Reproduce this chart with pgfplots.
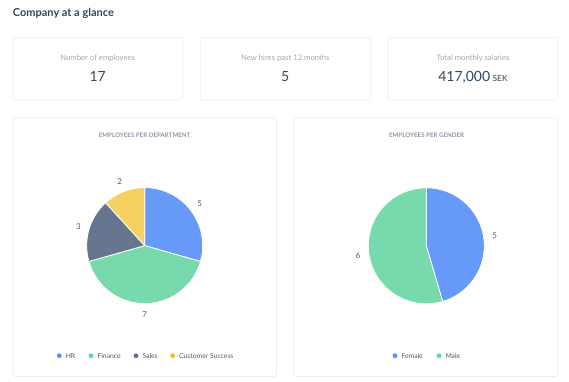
\documentclass[border=0pt]{standalone}
\usepackage{pgfplots}
\pgfplotsset{compat=1.18}
\usepackage{pgfplotstable}
\usepackage{fontspec}
\setmainfont{Lato}
\usetikzlibrary{calc}

\definecolor{titlec}{HTML}{33475B}
\definecolor{subc}{HTML}{A0A5AD}
\definecolor{cardc}{HTML}{E9ECF0}
\definecolor{charttitle}{HTML}{8C96A3}
\definecolor{labelc}{HTML}{595959}
\definecolor{sHR}{HTML}{6699F8}
\definecolor{sFin}{HTML}{78D9AC}
\definecolor{sSales}{HTML}{66768F}
\definecolor{sCS}{HTML}{F5D162}
\definecolor{dHR}{HTML}{5B8FF9}
\definecolor{dFin}{HTML}{5AD8A6}
\definecolor{dSales}{HTML}{5D7092}
\definecolor{dCS}{HTML}{F6BD16}

\pgfplotstableread{
value col
5 sHR
7 sFin
3 sSales
2 sCS
}\deptdata

\pgfplotstableread{
value col
5 sHR
6 sFin
}\genderdata

% draws a pie from a table (value, col), centre in axis units, radius in pt
\newcommand{\drawpie}[4]{%
  \pgfplotstablegetrowsof{#1}%
  \pgfmathtruncatemacro{\pienrows}{\pgfplotsretval-1}%
  \gdef\pietotal{0}%
  \foreach \i in {0,...,\pienrows}{%
    \pgfplotstablegetelem{\i}{value}\of{#1}%
    \pgfmathsetmacro{\tmpt}{\pietotal+\pgfplotsretval}%
    \xdef\pietotal{\tmpt}}%
  \gdef\piestart{90}%
  \foreach \i in {0,...,\pienrows}{%
    \pgfplotstablegetelem{\i}{value}\of{#1}\edef\pv{\pgfplotsretval}%
    \pgfplotstablegetelem{\i}{col}\of{#1}\edef\pc{\pgfplotsretval}%
    \pgfmathsetmacro{\pieend}{\piestart-360*\pv/\pietotal}%
    \pgfmathsetmacro{\piemid}{(\piestart+\pieend)/2}%
    \fill[\pc, draw=white, line width=0.8pt, line join=round]
      (axis cs:#2,#3) -- ++(\piestart:#4pt)
      arc[start angle=\piestart, end angle=\pieend, radius=#4pt] -- cycle;
    \node[text=labelc, font=\fontsize{8}{9}\selectfont, inner sep=0pt]
      at ($(axis cs:#2,#3)+(\piemid:#4pt+11pt)$) {\pv};
    \xdef\piestart{\pieend}%
  }%
}

\begin{document}
\begin{tikzpicture}
\begin{axis}[
  width=569pt, height=381pt, scale only axis,
  xmin=0, xmax=569, ymin=0, ymax=381, y dir=reverse,
  hide axis, clip=false,
]
\pgfplotsextra{
  \path (axis cs:0,0) rectangle (axis cs:569,381);
  % page title
  \node[anchor=base west, text=titlec, font=\fontsize{11}{13}\selectfont\bfseries, inner sep=0pt]
    at (axis cs:12.7,16) {Company at a glance};
  % cards
  \draw[cardc, line width=0.6pt, rounded corners=2.5pt] (axis cs:12.7,37.3) rectangle (axis cs:182.7,100);
  \draw[cardc, line width=0.6pt, rounded corners=2.5pt] (axis cs:200.3,37.3) rectangle (axis cs:370.3,100);
  \draw[cardc, line width=0.6pt, rounded corners=2.5pt] (axis cs:388,37.3) rectangle (axis cs:558,100);
  \draw[cardc, line width=0.6pt, rounded corners=2.5pt] (axis cs:12.7,118) rectangle (axis cs:276.5,376.5);
  \draw[cardc, line width=0.6pt, rounded corners=2.5pt] (axis cs:294,118) rectangle (axis cs:558,376.5);
  % KPI text
  \node[text=subc, font=\fontsize{7.7}{9}\selectfont, inner sep=0pt] at (axis cs:97.7,58) {Number of employees};
  \node[text=subc, font=\fontsize{7.7}{9}\selectfont, inner sep=0pt] at (axis cs:285.3,58) {New hires past 12 months};
  \node[text=subc, font=\fontsize{7.7}{9}\selectfont, inner sep=0pt] at (axis cs:473,58) {Total monthly salaries};
  \node[anchor=base, text=titlec, font=\fontsize{14}{16}\selectfont, inner sep=0pt] at (axis cs:97.7,81.5) {17};
  \node[anchor=base, text=titlec, font=\fontsize{14}{16}\selectfont, inner sep=0pt] at (axis cs:285.3,81.5) {5};
  \node[anchor=base, text=titlec, inner sep=0pt] at (axis cs:473,81.5)
    {\fontsize{14}{16}\selectfont 417,000\,\fontsize{8.5}{10}\selectfont SEK};
  % chart titles
  \node[text=charttitle, font=\fontsize{6.2}{7}\selectfont\bfseries, inner sep=0pt] at (axis cs:144.6,135.7) {EMPLOYEES PER DEPARTMENT};
  \node[text=charttitle, font=\fontsize{6.2}{7}\selectfont\bfseries, inner sep=0pt] at (axis cs:426.6,135.7) {EMPLOYEES PER GENDER};
  % pies
  \drawpie{\deptdata}{144.7}{245.6}{58}
  \drawpie{\genderdata}{426.3}{245.8}{58}
  % legends
  \foreach \x/\c/\t in {59.3/dHR/HR, 91/dFin/Finance, 136/dSales/Sales, 172.7/dCS/Customer Success, 395/dHR/Female, 439/dFin/Male}{
    \fill[\c] (axis cs:\x,355.7) circle[radius=2.4pt];
    \node[anchor=west, text=labelc, font=\fontsize{6.8}{8}\selectfont, inner sep=0pt] at (axis cs:\x+6.3,355.7) {\t};
  }
}
\end{axis}
\end{tikzpicture}
\end{document}
